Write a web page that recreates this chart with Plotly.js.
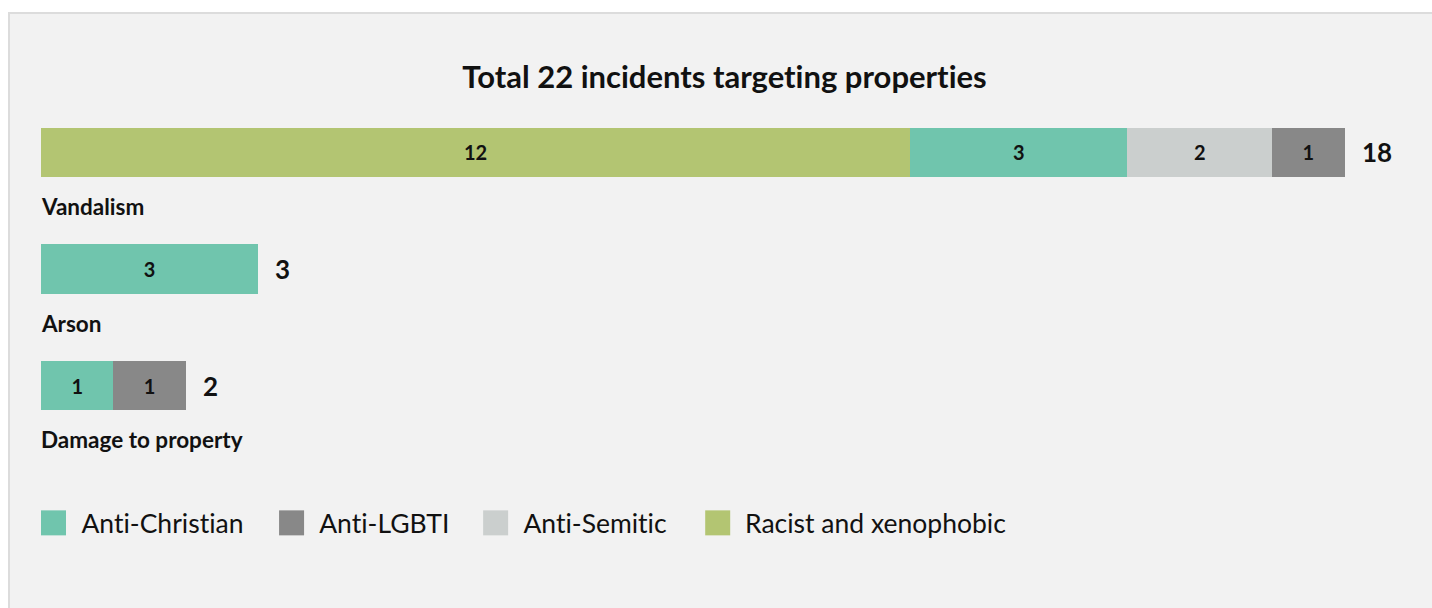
<!DOCTYPE html>
<html>
<head>
<meta charset="utf-8">
<script src="https://cdn.plot.ly/plotly-3.0.1.min.js"></script>
<style>
  html, body { margin: 0; padding: 0; background: #ffffff; width: 1432px; height: 608px; overflow: hidden; }
  #frame { position: absolute; left: 8px; top: 12px; width: 1440px; height: 620px; background: #f2f2f2; border: 2px solid #dcdcdc; box-sizing: border-box; }
  #chart { position: absolute; left: 0; top: 0; width: 1432px; height: 608px; }
  #chart text { font-variant-ligatures: none; font-feature-settings: "liga" 0, "clig" 0; }
</style>
</head>
<body>
<div id="frame"></div>
<div id="chart"></div>
<script>
// ---- Data ----
const categories = ['Vandalism', 'Arson', 'Damage to property'];
const racistXenophobic = [12, null, null];
const antiChristian = [3, 3, 1];
const antiSemitic = [2, null, null];
const antiLGBTI = [1, null, 1];
const chartTitle = 'Total 22 incidents targeting properties';

// stacking order (left to right) and legend order
const stackOrder = [
  { name: 'Racist and xenophobic', values: racistXenophobic, color: '#b3c572' },
  { name: 'Anti-Christian', values: antiChristian, color: '#70c5ad' },
  { name: 'Anti-Semitic', values: antiSemitic, color: '#cbcfce' },
  { name: 'Anti-LGBTI', values: antiLGBTI, color: '#888888' }
];
const legendOrder = ['Anti-Christian', 'Anti-LGBTI', 'Anti-Semitic', 'Racist and xenophobic'];

const FONT = 'Lato, "Noto Sans", sans-serif';
const W = 1432, H = 608;
const M = { l: 41, r: 15.4, t: 94.25, b: 164.25 };
const plotW = W - M.l - M.r, plotH = H - M.t - M.b;
const pxX = px => (px - M.l) / plotW;
const pxY = py => (H - M.b - py) / plotH;

const traces = stackOrder.map(s => ({
  type: 'bar',
  orientation: 'h',
  name: s.name,
  y: categories,
  x: s.values,
  marker: { color: s.color, line: { width: 0 } },
  text: s.values.map(v => v == null ? '' : String(v)),
  textposition: 'inside',
  insidetextanchor: 'middle',
  textangle: 0,
  constraintext: 'none',
  textfont: { family: FONT, size: 20, color: '#111111', weight: 700 },
  hoverinfo: 'name+x',
  showlegend: false
}));

const totals = categories.map((c, i) => stackOrder.reduce((a, s) => a + (s.values[i] || 0), 0));

const annotations = [];
categories.forEach((c, i) => {
  // totals to the right of each bar
  annotations.push({
    x: totals[i], y: c, xref: 'x', yref: 'y',
    text: String(totals[i]), showarrow: false,
    xanchor: 'left', yanchor: 'middle', xshift: 15,
    font: { family: FONT, size: 26, color: '#111111', weight: 700 }
  });
  // category labels under bars
  annotations.push({
    x: 0, y: c, xref: 'paper', yref: 'y',
    text: c, showarrow: false,
    xanchor: 'left', yanchor: 'middle', yshift: -54, xshift: -2,
    font: { family: FONT, size: 22.5, color: '#111111', weight: 700 }
  });
});

// custom legend (large square swatches)
const legendSquareX = [41, 279, 483, 705];
const legendY = 522.5;
const shapes = [];
legendOrder.forEach((name, k) => {
  const s = stackOrder.find(t => t.name === name);
  shapes.push({
    type: 'rect', xref: 'paper', yref: 'paper',
    xsizemode: 'pixel', ysizemode: 'pixel',
    xanchor: pxX(legendSquareX[k]), yanchor: pxY(legendY),
    x0: 0, x1: 25, y0: -12.5, y1: 12.5,
    fillcolor: s.color, line: { width: 0 }
  });
  annotations.push({
    x: pxX(legendSquareX[k] + 38), y: pxY(legendY), xref: 'paper', yref: 'paper',
    text: name, showarrow: false, xanchor: 'left', yanchor: 'middle',
    font: { family: FONT, size: 26.5, color: '#111111' }
  });
});

const layout = {
  width: W, height: H,
  margin: M,
  paper_bgcolor: 'rgba(0,0,0,0)',
  plot_bgcolor: 'rgba(0,0,0,0)',
  barmode: 'stack',
  bargap: 0.579,
  showlegend: false,
  title: {
    text: chartTitle,
    xref: 'container', yref: 'container',
    x: 724.5 / W, y: 1 - 77 / H, xanchor: 'center', yanchor: 'middle',
    font: { family: FONT, size: 31, color: '#111111', weight: 700 }
  },
  xaxis: { range: [0, 19], visible: false, fixedrange: true },
  yaxis: { type: 'category', categoryorder: 'array', categoryarray: categories,
           range: [2.5, -0.5], visible: false, fixedrange: true },
  annotations: annotations,
  shapes: shapes,
  font: { family: FONT }
};

Plotly.newPlot('chart', traces, layout, { displayModeBar: false, staticPlot: true });
</script>
</body>
</html>
